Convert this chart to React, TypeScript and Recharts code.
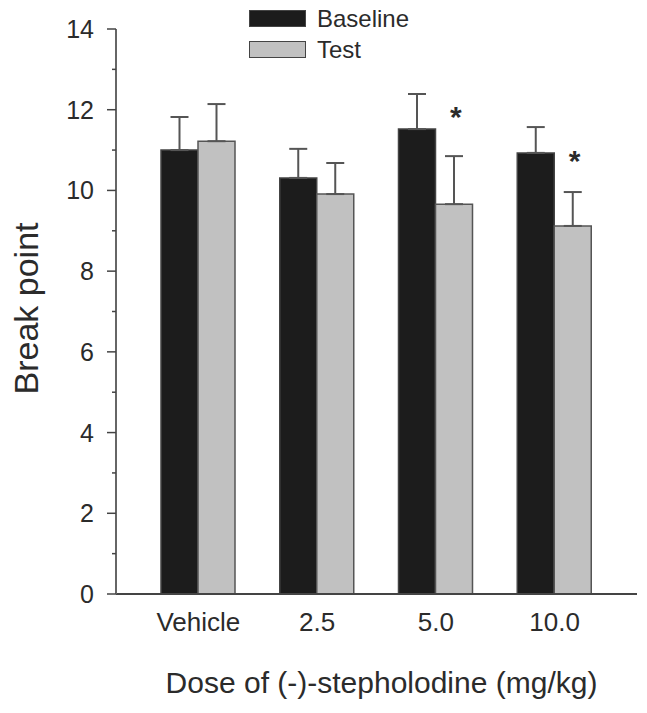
import React from 'react';
import {
    ComposedChart,
    Bar,
    XAxis,
    YAxis,
    ErrorBar,
    Scatter,
    Legend,
    Label
} from 'recharts';

const doses = ['Vehicle', '2.5', '5.0', '10.0'];
const baseline = [11.0, 10.31, 11.52, 10.93];
const baselineErr = [0.82, 0.72, 0.87, 0.64];
const test = [11.22, 9.91, 9.66, 9.12];
const testErr = [0.92, 0.77, 1.19, 0.84];
// where the significance asterisks sit (break point units)
const sigMarks = [null, null, 12.0, 10.9];
const yTicks = [0, 1, 2, 3, 4, 5, 6, 7, 8, 9, 10, 11, 12, 13, 14];

const FONT = '"Liberation Sans", Arial, sans-serif';
const TEXT = '#2b2b2b';

const chartData = doses.map((dose, i) => ({
    dose,
    baseline: baseline[i],
    bErr: [0, baselineErr[i]],
    test: test[i],
    tErr: [0, testErr[i]],
    sig: sigMarks[i]
}));

const Y_TICK_SIZE = 9;
const Y_TICK_MARGIN = 13;

const YTick = (props: any) => {
    const { x, y, payload } = props;
    const axisX = x + Y_TICK_SIZE + Y_TICK_MARGIN;
    const major = payload.value % 2 === 0;
    return (
        <g>
            <line x1={axisX - (major ? 9 : 4)} x2={axisX} y1={y} y2={y} stroke="#444" strokeWidth={1.5} />
            {major && (
                <text x={x} y={y} dy="0.36em" textAnchor="end" fontSize={25} fill={TEXT} fontFamily={FONT}>
                    {payload.value}
                </text>
            )}
        </g>
    );
};

const Asterisk = (props: any) => {
    const { cx, cy, payload } = props;
    if (payload == null || payload.sig == null || cy == null || isNaN(cy)) return <g />;
    return (
        <text x={cx + 20} y={cy + 17} textAnchor="middle" fontSize={30} fontWeight="bold" fill={TEXT} fontFamily={FONT}>
            *
        </text>
    );
};

const LegendBox = ({ payload }: any) => (
    <div style={{ fontFamily: FONT }}>
        {(payload || [])
            .filter((entry: any) => entry.type !== 'none' && entry.dataKey !== 'sig')
            .map((entry: any) => (
                <div key={entry.value} style={{ display: 'flex', alignItems: 'center', height: 31 }}>
                    <div
                        style={{
                            width: 55,
                            height: 15,
                            background: entry.color,
                            border: '1.5px solid #444'
                        }}
                    />
                    <span style={{ marginLeft: 11, fontSize: 24, color: TEXT }}>{entry.value}</span>
                </div>
            ))}
    </div>
);

const YLabel = ({ viewBox }: any) => {
    const cx = viewBox.x + 18;
    const cy = viewBox.y + viewBox.height / 2 - 3;
    return (
        <text
            x={cx}
            y={cy}
            transform={`rotate(-90, ${cx}, ${cy})`}
            textAnchor="middle"
            dominantBaseline="central"
            fontSize={34}
            fill={TEXT}
            fontFamily={FONT}
        >
            Break point
        </text>
    );
};

const App: React.FC = () => {
    return (
        <div style={{ width: 639, height: 705, position: 'relative' }}>
            <ComposedChart
                width={639}
                height={705}
                data={chartData}
                margin={{ top: 21, right: 10, bottom: 0, left: 0 }}
                barSize={37}
                barGap={0}
            >
                <XAxis
                    dataKey="dose"
                    padding={{ left: 23, right: 23 }}
                    tickLine={false}
                    tickSize={10}
                    tickMargin={9}
                    height={119}
                    axisLine={{ stroke: '#444', strokeWidth: 2 }}
                    tick={{ fontSize: 26, fill: TEXT, fontFamily: FONT }}
                >
                    <Label
                        value="Dose of (-)-stepholodine (mg/kg)"
                        position="insideBottom"
                        offset={20}
                        dx={5}
                        fontSize={30}
                        fill={TEXT}
                        fontFamily={FONT}
                    />
                </XAxis>
                <YAxis
                    type="number"
                    domain={[0, 14]}
                    ticks={yTicks}
                    interval={0}
                    width={108}
                    tickLine={false}
                    tickSize={Y_TICK_SIZE}
                    tickMargin={Y_TICK_MARGIN}
                    axisLine={{ stroke: '#666', strokeWidth: 2 }}
                    tick={<YTick />}
                >
                    <Label content={<YLabel />} />
                </YAxis>
                <Legend
                    layout="horizontal"
                    verticalAlign="middle"
                    align="center"
                    wrapperStyle={{ position: 'absolute', top: -5, left: 241, width: 'auto' }}
                    content={<LegendBox />}
                />
                <Bar dataKey="baseline" name="Baseline" fill="#1c1c1c" stroke="#444" strokeWidth={1.5} isAnimationActive={false}>
                    <ErrorBar dataKey="bErr" direction="y" width={9} stroke="#555" strokeWidth={2} />
                </Bar>
                <Bar dataKey="test" name="Test" fill="#c1c1c1" stroke="#555" strokeWidth={1.5} isAnimationActive={false}>
                    <ErrorBar dataKey="tErr" direction="y" width={9} stroke="#555" strokeWidth={2} />
                </Bar>
                <Scatter dataKey="sig" legendType="none" shape={<Asterisk />} isAnimationActive={false} />
            </ComposedChart>
        </div>
    );
};

export default App;
